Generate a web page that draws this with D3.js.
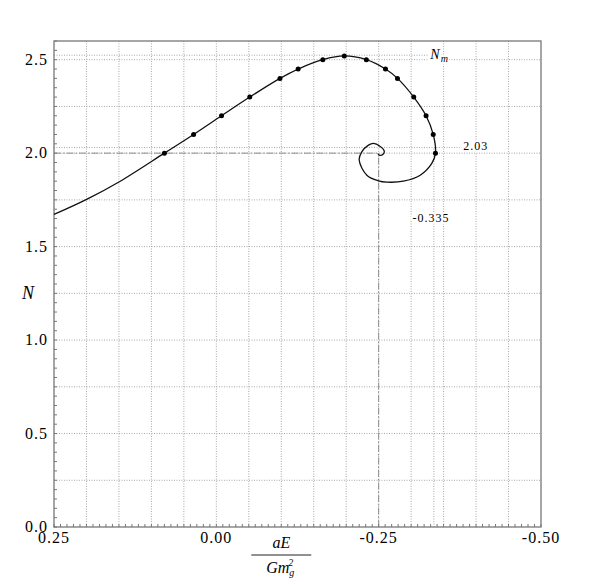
<!DOCTYPE html>
<html>
<head>
<meta charset="utf-8">
<script src="https://cdn.jsdelivr.net/npm/d3@7"></script>
<style>
  body { margin: 0; background: #fff; }
</style>
</head>
<body>
<svg id="chart" width="598" height="584"></svg>
<script>
// curve: left branch, marked points, spiral
var leftE = [0.25, 0.199, 0.148];
var leftN = [1.672, 1.754, 1.850];
var markE = [0.080, 0.035, -0.008, -0.0515, -0.098, -0.126, -0.164, -0.197, -0.231, -0.2605, -0.279, -0.304, -0.323, -0.334, -0.3375];
var markN = [2.0, 2.1, 2.2, 2.3, 2.4, 2.45, 2.5, 2.52, 2.5, 2.45, 2.4, 2.3, 2.2, 2.1, 2.0];
var spiralE = [-0.3318, -0.314, -0.288, -0.2626, -0.2497, -0.2318, -0.220, -0.224, -0.2343, -0.242, -0.252, -0.2585, -0.2565, -0.2508, -0.2488];
var spiralN = [1.945, 1.882, 1.850, 1.845, 1.852, 1.882, 1.963, 2.007, 2.043, 2.052, 2.037, 2.012, 1.993, 1.989, 1.998];

var xTicks = [0.25, 0.00, -0.25, -0.50];
var yTicks = [0.0, 0.5, 1.0, 1.5, 2.0, 2.5];
var Nm = 2.524, Nturn = 2.03, Eturn = -0.335;
var Ecenter = -0.25, Ncenter = 2.0;

var margin = { top: 41, right: 57, bottom: 57, left: 54 },
    width = 598 - margin.left - margin.right,
    height = 584 - margin.top - margin.bottom

var x = d3.scaleLinear().domain([0.25, -0.5]).range([0, width])
var y = d3.scaleLinear().domain([0, 2.6]).range([height, 0])

var serif = "'Liberation Serif', 'Times New Roman', 'DejaVu Serif', serif"

var svg = d3.select("#chart")
    .attr("font-family", serif)
    .append("g")
    .attr("transform", "translate(" + margin.left + "," + margin.top + ")")

var gridColor = "#a8a8a8"

// grid
svg.selectAll(".vgrid")
    .data(d3.range(1, 15).map(function (i) { return 0.25 - i * 0.05; }))
    .enter().append("line")
    .attr("x1", d => x(d)).attr("x2", d => x(d))
    .attr("y1", 0).attr("y2", height)
    .attr("stroke", gridColor).attr("stroke-dasharray", "1,1.5")

svg.selectAll(".hgrid")
    .data(d3.range(1, 11).map(function (i) { return i * 0.25; }))
    .enter().append("line")
    .attr("x1", 0).attr("x2", width)
    .attr("y1", d => y(d)).attr("y2", d => y(d))
    .attr("stroke", gridColor).attr("stroke-dasharray", "1,1.5")

// guide lines
function guide(x1, y1, x2, y2, dash, color) {
    svg.append("line")
        .attr("x1", x(x1)).attr("y1", y(y1))
        .attr("x2", x(x2)).attr("y2", y(y2))
        .attr("stroke", color).attr("stroke-dasharray", dash)
}
guide(0.25, Nm, -0.3275, Nm, "1,1.5", gridColor)
guide(0.25, Nturn, -0.375, Nturn, "1,1.5", gridColor)
guide(Eturn, 0, Eturn, Nturn, "1,1.5", gridColor)
guide(0.25, Ncenter, Ecenter, Ncenter, "7,2,1.5,2", "#8c8c8c")
guide(Ecenter, 0, Ecenter, Ncenter, "7,2,1.5,2", "#8c8c8c")

// minor ticks
svg.selectAll(".xminor")
    .data(d3.range(0, 76).map(function (i) { return 0.25 - i * 0.01; }))
    .enter().append("line")
    .attr("x1", d => x(d)).attr("x2", d => x(d))
    .attr("y1", height).attr("y2", height - 3)
    .attr("stroke", "#777")

svg.selectAll(".yminor")
    .data(d3.range(0, 53).map(function (i) { return i * 0.05; }))
    .enter().append("line")
    .attr("x1", 0).attr("x2", 3)
    .attr("y1", d => y(d)).attr("y2", d => y(d))
    .attr("stroke", "#777")

// frame
svg.append("rect")
    .attr("width", width).attr("height", height)
    .attr("fill", "none").attr("stroke", "#777").attr("stroke-width", 1.3)

// tick labels
svg.selectAll(".xlab")
    .data(xTicks)
    .enter().append("text")
    .attr("x", d => x(d)).attr("y", height + 16)
    .attr("text-anchor", "middle")
    .style("font-size", "16px").style("letter-spacing", "1px")
    .text(d => d3.format(".2f")(d).replace("\u2212", "-"))

svg.selectAll(".ylab")
    .data(yTicks)
    .enter().append("text")
    .attr("x", -6).attr("y", d => y(d) + 5)
    .attr("text-anchor", "end")
    .style("font-size", "16px").style("letter-spacing", "1px")
    .text(d => d3.format(".1f")(d))

// curve
var pts = []
leftE.forEach((e, i) => pts.push([e, leftN[i]]))
markE.forEach((e, i) => pts.push([e, markN[i]]))
spiralE.forEach((e, i) => pts.push([e, spiralN[i]]))

var line = d3.line()
    .x(d => x(d[0])).y(d => y(d[1]))
    .curve(d3.curveCatmullRom.alpha(0.5))

svg.append("path")
    .attr("d", line(pts))
    .attr("fill", "none").attr("stroke", "#111").attr("stroke-width", 1.3)

svg.selectAll(".mark")
    .data(markE)
    .enter().append("circle")
    .attr("cx", d => x(d)).attr("cy", (d, i) => y(markN[i]))
    .attr("r", 2.5).attr("fill", "#000")

// annotations
function note(txt, xv, yv, size) {
    return svg.append("text")
        .attr("x", x(xv)).attr("y", y(yv))
        .style("font-size", size + "px").style("letter-spacing", "1px")
        .attr("stroke", "#fff").attr("stroke-width", 4).attr("paint-order", "stroke")
        .text(txt)
}
var nm = note("", -0.3295, Nm - 0.018, 14)
nm.append("tspan").style("font-style", "italic").text("N")
nm.append("tspan").style("font-style", "italic").style("font-size", "10px").attr("dy", 3).text("m")
note("2.03", -0.3802, Nturn - 0.015, 12)
note("-0.335", -0.3022, 1.63, 12)

// axis labels
svg.append("text")
    .attr("x", -32).attr("y", y(1.22))
    .style("font-size", "18px").style("font-style", "italic")
    .text("N")

var fx = x(-0.1)
svg.append("text")
    .attr("x", fx).attr("y", height + 21)
    .attr("text-anchor", "middle")
    .style("font-size", "16px").style("font-style", "italic")
    .text("aE")
svg.append("line")
    .attr("x1", fx - 30).attr("x2", fx + 30)
    .attr("y1", height + 28).attr("y2", height + 28)
    .attr("stroke", "#222").attr("stroke-width", 1)
var den = svg.append("text")
    .attr("x", fx - 1).attr("y", height + 46)
    .attr("text-anchor", "middle")
    .style("font-size", "16px").style("font-style", "italic")
den.append("tspan").text("Gm")
den.append("tspan").style("font-size", "10px").attr("dy", 3).text("g")
den.append("tspan").style("font-size", "10px").attr("dx", -6).attr("dy", -10).text("2")
</script>
</body>
</html>
